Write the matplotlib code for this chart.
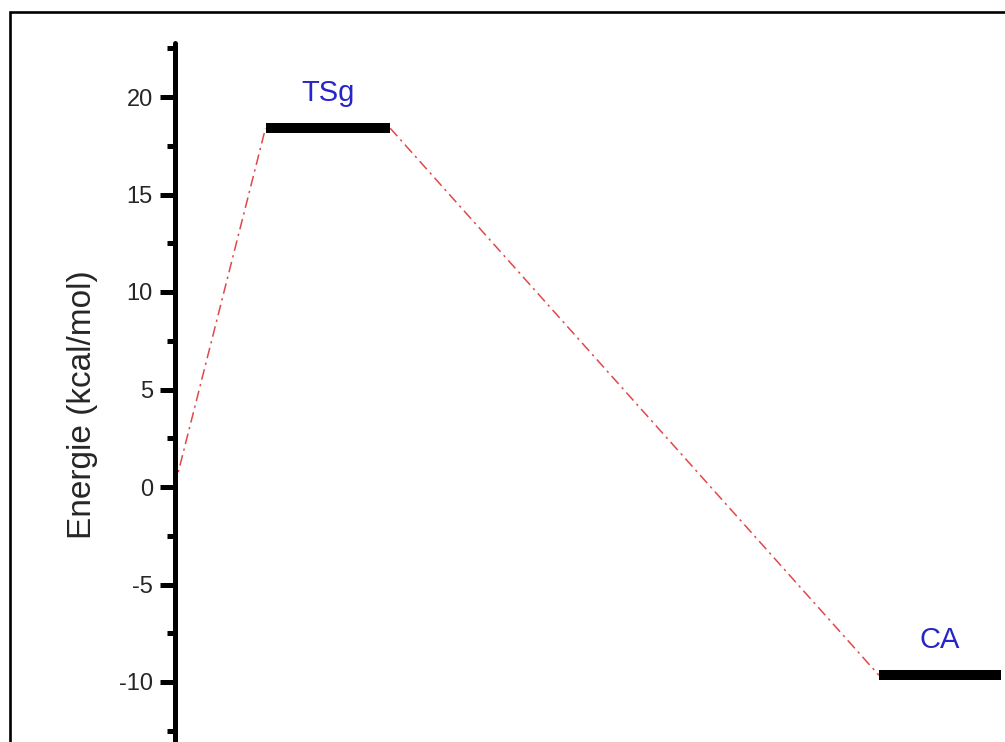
import matplotlib
matplotlib.use("Agg")
import matplotlib.pyplot as plt
from matplotlib.patches import Rectangle
import numpy as np

plt.rcParams['font.family'] = ['Liberation Sans', 'DejaVu Sans']
plt.rcParams['axes.unicode_minus'] = False

# ---- data ----
level_names = ["R", "TSg", "CA"]
level_energy = [0.0, 18.4, -9.65]          # kcal/mol
level_x_start = [-1.0, 1.0, 7.74]          # reaction coordinate (arb.)
level_x_end = [0.0, 2.37, 9.08]
show_label = [False, True, True]
y_major_ticks = [-10, -5, 0, 5, 10, 15, 20]
y_minor_ticks = [-12.5, -7.5, -2.5, 2.5, 7.5, 12.5, 17.5, 22.5]
y_label = "Energie (kcal/mol)"

W, H = 1005, 742
fig = plt.figure(figsize=(W / 100, H / 100), dpi=100)

# outer frame
fig.patches.append(Rectangle((10 / W, -0.1), 2.0, 1.1 - (12 / H),
                             transform=fig.transFigure, fill=False,
                             edgecolor='black', linewidth=1.9, zorder=0))

ax_left = 174.5 / W
ax_top_px = 43.4
ax = fig.add_axes([ax_left, 0, 1 - ax_left, (H - ax_top_px) / H])
ax.set_xlim(0, (W - 174.5) / 91.0)
ax.set_ylim((487 - H) / 19.5, (487 - ax_top_px) / 19.5)
ax.patch.set_alpha(0)

for s in ['top', 'right', 'bottom']:
    ax.spines[s].set_visible(False)
ax.spines['left'].set_linewidth(3.6)
ax.spines['left'].set_capstyle('round')
ax.set_xticks([])
ax.set_yticks(y_major_ticks)
ax.set_yticks(y_minor_ticks, minor=True)
ax.tick_params(axis='y', which='major', length=11, width=3.6, pad=4.5,
               labelsize=17, labelcolor='#262626')
ax.tick_params(axis='y', which='minor', length=6, width=3.6)

# levels
for name, e, xs, xe, sl in zip(level_names, level_energy, level_x_start,
                                level_x_end, show_label):
    ax.plot([xs, xe], [e, e], color='black', linewidth=7.2,
            solid_capstyle='butt', zorder=3)
    if sl:
        ax.text((xs + xe) / 2, e + 1.1, name, color='#2626c8', fontsize=21,
                ha='center', va='bottom')

# connectors
for i in range(len(level_names) - 1):
    ax.plot([level_x_end[i], level_x_start[i + 1]],
            [level_energy[i], level_energy[i + 1]],
            color='#e04848', linewidth=1.1, linestyle=(0, (7, 3, 1.5, 3)),
            zorder=2)

fig.text(82 / W, 1 - 405 / H, y_label, rotation=90, ha='center',
         va='center', fontsize=24, color='#262626')

fig.savefig("out.png", dpi=100)
